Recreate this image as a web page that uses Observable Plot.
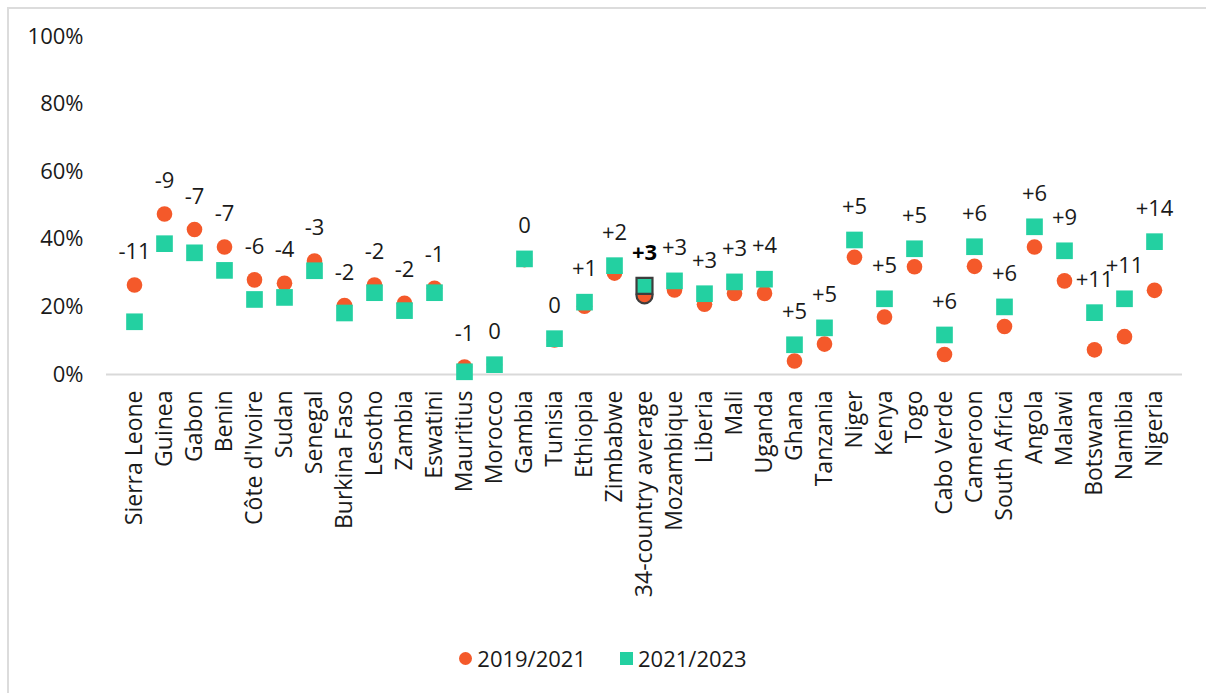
<!DOCTYPE html>
<html>
<head>
<meta charset="utf-8">
<script src="https://cdn.jsdelivr.net/npm/d3@7"></script>
<script src="https://cdn.jsdelivr.net/npm/@observablehq/plot@0.6"></script>
<style>
  html, body { margin: 0; padding: 0; background: #fff; }
  body { width: 1206px; height: 693px; position: relative; overflow: hidden; font-family: "Open Sans", Lato, sans-serif; }
  .frame { position: absolute; left: 7px; top: 7px; right: 0; bottom: 0; border-left: 2px solid #dcdcdc; border-top: 2px solid #dcdcdc; }
  #chart { position: absolute; left: 0; top: 0; }
  .legend { position: absolute; left: 0; width: 1206px; top: 643px; display: flex; justify-content: center; align-items: center; gap: 34px; font-size: 22px; color: #1a1a1a; }
  .legend .item { display: flex; align-items: center; gap: 5px; }
  .legend .dot { width: 13px; height: 13px; border-radius: 50%; background: #F4592A; display: inline-block; }
  .legend .sq { width: 13px; height: 13px; background: #23D0A1; display: inline-block; }
</style>
</head>
<body>
<div class="frame"></div>
<div id="chart"></div>
<div class="legend">
  <span class="item"><span class="dot"></span>2019/2021</span>
  <span class="item"><span class="sq"></span>2021/2023</span>
</div>
<script>
const countries = ["Sierra Leone","Guinea","Gabon","Benin","Côte d'Ivoire","Sudan","Senegal","Burkina Faso","Lesotho","Zambia","Eswatini","Mauritius","Morocco","Gambia","Tunisia","Ethiopia","Zimbabwe","34-country average","Mozambique","Liberia","Mali","Uganda","Ghana","Tanzania","Niger","Kenya","Togo","Cabo Verde","Cameroon","South Africa","Angola","Malawi","Botswana","Namibia","Nigeria"];

// Share (%) in each survey round
const round2019 = [26.5, 47.5, 42.9, 37.7, 28.0, 27.0, 33.6, 20.4, 26.5, 21.1, 25.5, 2.2, 2.9, 34.0, 10.2, 20.2, 30.0, 23.4, 25.0, 20.8, 24.0, 24.0, 4.0, 9.0, 34.7, 17.0, 31.9, 5.9, 32.0, 14.2, 37.7, 27.7, 7.3, 11.2, 24.9];
const round2021 = [15.6, 38.7, 36.0, 30.8, 22.2, 22.8, 30.7, 18.2, 24.2, 18.9, 24.2, 0.8, 2.9, 34.2, 10.6, 21.4, 32.2, 26.2, 27.7, 23.9, 27.4, 28.2, 8.8, 13.8, 39.8, 22.4, 37.2, 11.7, 37.8, 20.0, 43.7, 36.6, 18.3, 22.4, 39.3];

// Percentage-point change between rounds
const change = [-11, -9, -7, -7, -6, -4, -3, -2, -2, -2, -1, -1, 0, 0, 0, 1, 2, 3, 3, 3, 3, 4, 5, 5, 5, 5, 5, 6, 6, 6, 6, 9, 11, 11, 14];

const yTicks = [0, 20, 40, 60, 80, 100];

const AVG = "34-country average";
const ORANGE = "#F4592A";
const GREEN = "#23D0A1";
const INK = "#1a1a1a";
const FONT = "'Open Sans', Lato, sans-serif";

const rows = countries.map((c, i) => ({
  country: c,
  a: round2019[i],
  b: round2021[i],
  top: Math.max(round2019[i], round2021[i]),
  label: change[i] > 0 ? "+" + change[i] : String(change[i]),
  avg: c === AVG
}));
const regular = rows.filter(d => !d.avg);
const average = rows.filter(d => d.avg);

const chart = Plot.plot({
  width: 1206,
  height: 640,
  marginLeft: 106,
  marginRight: 24,
  marginTop: 36,
  marginBottom: 266,
  style: { fontFamily: FONT, color: INK, background: "transparent" },
  x: { type: "band", domain: countries, padding: 0 },
  y: { domain: [0, 100] },
  marks: [
    Plot.ruleY([0], { stroke: "#d9d9d9", strokeWidth: 2 }),
    Plot.axisY({ ticks: yTicks, tickFormat: d => d + "%", tickSize: 0, tickPadding: 23, fontSize: 22, fill: INK, label: null }),
    Plot.axisX({ tickRotate: -90, tickSize: 0, tickPadding: 16, fontSize: 23, fill: INK, label: null }),
    Plot.dot(regular, { x: "country", y: "a", r: 7.8, fill: ORANGE, symbol: "circle" }),
    Plot.dot(regular, { x: "country", y: "b", r: 9.4, fill: GREEN, symbol: "square" }),
    Plot.dot(average, { x: "country", y: "a", r: 8, fill: ORANGE, stroke: "#3d3d3d", strokeWidth: 2.2, symbol: "circle" }),
    Plot.dot(average, { x: "country", y: "b", r: 9, fill: GREEN, stroke: "#3d3d3d", strokeWidth: 2.2, symbol: "square" }),
    Plot.text(regular, { x: "country", y: "top", text: "label", dy: -33, fontSize: 22, fill: INK }),
    Plot.text(average, { x: "country", y: "top", text: "label", dy: -33, fontSize: 22, fontWeight: "bold", fill: "#000" })
  ]
});
document.getElementById("chart").appendChild(chart);
</script>
</body>
</html>
